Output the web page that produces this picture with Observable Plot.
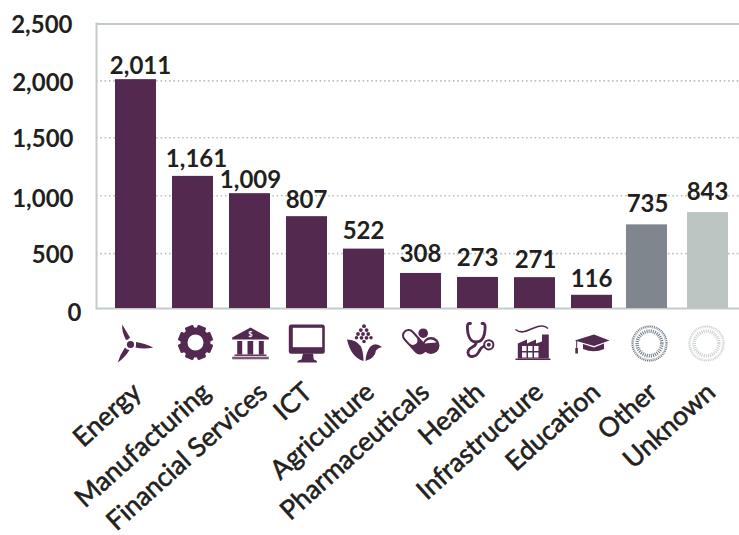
<!DOCTYPE html>
<html>
<head>
<meta charset="utf-8">
<script src="https://cdn.jsdelivr.net/npm/d3@7"></script>
<script src="https://cdn.jsdelivr.net/npm/@observablehq/plot@0.6"></script>
<style>
html,body{margin:0;padding:0;background:#fff;overflow:hidden}
svg{display:block}
</style>
</head>
<body>
<div id="chart"></div>
<script>
const categories = ["Energy","Manufacturing","Financial Services","ICT","Agriculture","Pharmaceuticals","Health","Infrastructure","Education","Other","Unknown"];
const values = [2011,1161,1009,807,522,308,273,271,116,735,843];
const yTicks = [2500,2000,1500,1000,500,0];
const gridTicks = [2000,1500,1000,500];
const PURPLE = "#53294f", GREY = "#7f868d", LIGHT = "#bdc5c3", FRAME = "#c3cbc9", INK = "#231f20";

// Per-label nudges (px) that reproduce the hand placement in the source graphic
const valueDx = [4.5,3.5,0.5,-0.5,-0.5,-0.5,-0.5,0.5,-0.5,-1.5,1.5];
const valueDy = [-6,-9,-5.5,-9,-10,-11,-11,-10,-8,-13,-12.5];
const nameDx = [7,19,19,7,12,10,8,10,10,10,11];
const tickDx = [-2,-1,-1,-1,-1,7];
const tickDy = [1,2.9,1.5,4.3,4.2,4.5];
const gridDy = [0,0,1,2];

const P = PURPLE;
const gearTeeth = d3.range(8).map(i=>`<rect x="20" y="3.5" width="9" height="8" rx="1.2" fill="${P}" transform="rotate(${i*45+22.5} 24.5 21)"/>`).join("");
function ring(c){return `<circle cx="22.5" cy="22" r="17.3" fill="none" stroke="${c}" stroke-width="1.6" stroke-dasharray="1.1 .8"/><circle cx="22.5" cy="22" r="16.2" fill="none" stroke="${c}" stroke-width=".7" opacity=".6"/><circle cx="22.5" cy="22" r="12.3" fill="none" stroke="${c}" stroke-width="3.6" stroke-dasharray="1 1.1"/>`;}
const icons = {
 "Energy": `<path fill="${P}" d="M8.2 3 L16 16 Q14 18.5 12 18.5 Q7.5 10 8.2 3Z M39.2 26 Q30 28 21.5 26 Q22.3 23 22 20.5 Q32 22 39.2 26Z M3.8 41 Q6 33 11 26 Q13 28.5 15.5 28.5 Q11 36 3.8 41Z"/><circle cx="16.5" cy="23" r="3.6" fill="${P}"/>`,
 "Manufacturing": `${gearTeeth}<circle cx="24.5" cy="21" r="11.5" fill="none" stroke="${P}" stroke-width="7"/>`,
 "Financial Services": `<path fill="${P}" d="M22.5 6 L40.8 16 V18 H4.2 V16Z"/><rect x="9.2" y="19.5" width="5" height="13.5" fill="${P}"/><rect x="19.5" y="19.5" width="5.7" height="13.5" fill="${P}"/><rect x="30.8" y="19.5" width="5" height="13.5" fill="${P}"/><rect x="6.5" y="33" width="32" height="1.4" fill="${P}"/><rect x="4.2" y="35.2" width="36.6" height="2.6" fill="#7b5a78"/><text x="22.5" y="15" text-anchor="middle" font-family="Lato" font-weight="700" font-size="7.5" fill="#fff">$</text>`,
 "ICT": `<rect x="3.8" y="3" width="36" height="29.3" rx="2.5" fill="${P}"/><rect x="7.8" y="6.3" width="29.4" height="19.4" fill="#fff"/><path fill="${P}" d="M18 32 H28 L28.8 38 Q32 38.5 32.2 41 H12.2 Q12.4 38.5 16.5 38Z"/>`,
 "Agriculture": `<g fill="${P}"><circle cx="22" cy="4.7" r="1.9"/><circle cx="18.8" cy="8.6" r="1.9"/><circle cx="24.6" cy="8.6" r="1.9"/><circle cx="16" cy="12.5" r="1.9"/><circle cx="21" cy="12.5" r="1.9"/><circle cx="26.2" cy="12.5" r="1.9"/><circle cx="14.5" cy="16.3" r="1.8"/><circle cx="19.5" cy="16.3" r="1.9"/><circle cx="24.5" cy="16.3" r="1.9"/><circle cx="29" cy="16.3" r="1.8"/><circle cx="22" cy="20" r="1.8"/><path d="M5 18 Q14 18 19 25 Q21.5 31 21.5 39.5 Q9 36 5 18Z M40 25.5 Q33 20 28 25.5 Q24 31 23.5 39.5 Q33 37 34 29 Q36 26 40 25.5Z"/></g>`,
 "Pharmaceuticals": `<g fill="none" stroke-linecap="round"><line x1="9.5" y1="14" x2="21" y2="26.5" stroke="${P}" stroke-width="13"/><line x1="9.5" y1="14" x2="14" y2="19" stroke="#fff" stroke-width="9"/></g><circle cx="24.2" cy="11.7" r="4.8" fill="${P}"/><circle cx="32" cy="24" r="8.5" fill="${P}"/><path d="M25.5 22 A7 7 0 0 1 37.5 21 Z" fill="#fff"/>`,
 "Health": `<g fill="none" stroke="${P}" stroke-width="2.8" stroke-linecap="round"><path d="M14.5 2 H12.8 Q11 2 11.5 8 C12 17 16 20.5 20 20.5 C24.5 20.5 28.5 17 29 8 Q29.5 2 27.5 2 H26"/><path d="M20 21 C21 26 12 25 12 31 C12 36.5 20 36.5 23 30 C24.5 27 25.5 25.5 27.5 25"/></g><circle cx="32.8" cy="23.3" r="4.6" fill="#fff" stroke="${P}" stroke-width="2"/><circle cx="32.8" cy="23.3" r="2" fill="${P}"/>`,
 "Infrastructure": `<path fill="none" stroke="${P}" stroke-width="1.6" d="M2.5 8 C10 14 17 7 25 5 C30 3.8 33 5 35 7"/><path fill="${P}" d="M4.8 37 V22 L14 18 V22 L23 18 V22 L29 20 V13 H35.8 V37Z"/><g fill="#fff"><rect x="9" y="24.5" width="4.5" height="5"/><rect x="15" y="24.5" width="4.5" height="5"/><rect x="21" y="24.5" width="4.5" height="5"/><rect x="9" y="31" width="4.5" height="5"/><rect x="15" y="31" width="4.5" height="5"/><rect x="21" y="31" width="4.5" height="5"/></g><rect x="2.5" y="37" width="35" height="1.5" fill="${P}"/>`,
 "Education": `<path fill="${P}" d="M4.8 19 L24 13 L39.5 19 L24 24.5Z M13 22.5 L24 26 L34 22 V27.5 Q24 32 13 27.5Z"/><rect x="6.2" y="19" width="1" height="8" fill="${P}"/><rect x="5.3" y="26.5" width="2.6" height="5.5" fill="${P}"/>`,
 "Other": ring("#6f7a85"),
 "Unknown": ring("#c9cfcd")
};
const iconUrl = c => "data:image/svg+xml;utf8," + encodeURIComponent(`<svg xmlns="http://www.w3.org/2000/svg" width="44" height="44" viewBox="0 0 44 44">${icons[c]}</svg>`);

const table = categories.map((category,i)=>({category,value:values[i],index:i}));
const purple = table.filter(d=>d.index<9);

const chart = Plot.plot({
  width:739, height:535,
  marginLeft:96, marginRight:0, marginTop:23, marginBottom:227,
  style:{background:"#fff",fontFamily:"Lato",color:INK},
  x:{type:"band",domain:categories,range:[107,734],paddingInner:16/57,paddingOuter:8/57,round:false,axis:null},
  y:{domain:[0,2500],range:[308,23.5],axis:null},
  marks:[
    ...gridTicks.map((t,i)=>Plot.ruleY([t],{y:d=>d,stroke:"#b9c1bf",strokeWidth:1.6,strokeDasharray:"1.6 2.7",dy:gridDy[i]})),
    Plot.ruleY([2500,0],{y:d=>d,stroke:FRAME,strokeWidth:2}),
    Plot.frame({anchor:"left",stroke:FRAME,strokeWidth:2}),
    Plot.barY(purple,{x:"category",y:"value",fill:PURPLE}),
    Plot.barY([table[9]],{x:"category",y:"value",fill:GREY,dx:-2}),
    Plot.barY([table[10]],{x:"category",y:"value",fill:LIGHT,dx:2}),
    ...yTicks.map((t,i)=>Plot.axisY([t],{tickSize:0,tickPadding:22,fontSize:24,fontWeight:700,tickFormat:d3.format(","),fill:INK,dx:tickDx[i],dy:tickDy[i],label:null})),
    ...table.map((d,i)=>Plot.text([d],{x:"category",y:"value",text:v=>d3.format(",")(v.value),lineAnchor:"bottom",fontSize:24,fontWeight:700,fill:INK,dx:valueDx[i],dy:valueDy[i]})),
    Plot.image(categories,{x:d=>d,frameAnchor:"bottom",width:44,height:44,src:iconUrl,dy:35}),
    ...table.map((d,i)=>Plot.text([d.category],{x:d=>d,frameAnchor:"bottom",text:d=>d,rotate:-42,textAnchor:"end",fontSize:26.5,fontWeight:400,fill:INK,stroke:INK,strokeWidth:0.6,dx:nameDx[i],dy:86}))
  ]
});
document.getElementById("chart").append(chart);
</script>
</body>
</html>
